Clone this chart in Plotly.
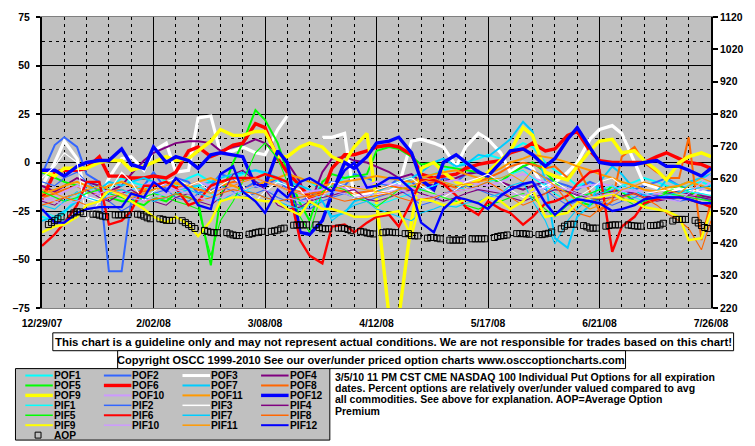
import plotly.graph_objects as go
import pandas as pd

# ---------------- data ----------------
dates = ["2007-12-29","2008-01-02","2008-01-05","2008-01-09","2008-01-12","2008-01-16","2008-01-19","2008-01-23","2008-01-26","2008-01-30",
         "2008-02-02","2008-02-06","2008-02-09","2008-02-13","2008-02-16","2008-02-20","2008-02-23","2008-02-27","2008-03-01","2008-03-05",
         "2008-03-08","2008-03-12","2008-03-15","2008-03-19","2008-03-22","2008-03-26","2008-03-29","2008-04-02","2008-04-05","2008-04-09",
         "2008-04-12","2008-04-16","2008-04-19","2008-04-23","2008-04-26","2008-04-30","2008-05-03","2008-05-07","2008-05-10","2008-05-14",
         "2008-05-17","2008-05-21","2008-05-24","2008-05-28","2008-05-31","2008-06-04","2008-06-07","2008-06-11","2008-06-14","2008-06-18",
         "2008-06-21","2008-06-25","2008-06-28","2008-07-02","2008-07-05","2008-07-09","2008-07-12","2008-07-16","2008-07-19","2008-07-23",
         "2008-07-26"]

POF1 = [-28,-30,-26,-18,-10,-12,-14,-8,-10,-12, -6,-10,-12,-8,-6,-10,-12,-8,-6,-4,
        -6,-10,-12,-8,-10,-14,-12,-8,-6,-8, -10,-12,-14,-10,-8,-6,-4,-2,0,2,
        4,2,6,10,8,0,-4,-8,-12,-10, -14,-16,-12,-10,-8,-10,-12,-14,-12,-10, -12]
POF2 = [-6,9,13,8,-6,-10,-56,-56,-20,-12, -5,-14,-8,-10,-16,-12,-6,-8,-14,-10,
        -12,-8,-14,-20,-18,-12,-10,-12,-6,-8, -10,-12,-8,-10,-14,-12,-8,-10,-6,-4,
        -8,-10,-6,-2,-4,-8,-10,-12,-14,-10, -12,-16,-18,-14,-12,-10,-8,-12,-14,-16, -14]
POF3 = [-12,0,11,2,-18,-20,-8,2,3,-4, 6,10,-5,-4,23,24,5,6,8,5,
        4,17,24,None,None,13,13,15,-18,-16, -16,-15,-12,11,12,10,8,-2,8,15,
        12,5,-5,0,-3,-14,-10,-5,0,12, 17,19,15,0,-11,-13,-14,-14,-14,-15, -16]
POF4 = [-12,-15,-12,-8,-10,-12,-15,-12,-6,1, 5,8,10,11,11,10,6,8,9,12,
        10,5,0,-10,-22,-5,2,3,1,0, -2,-5,-8,-6,-10,-12,-10,-8,-6,-5,
        -8,-10,-12,-14,-12,-10,-12,-14,-16,-18, -16,-15,-14,-16,-18,-17,-16,-15,-16,-17, -18]
POF5 = [-5,-8,-10,-12,-14,-16,-18,-20,-20,-22, -18,-20,-16,-18,-20,-53,-18,0,10,27,
        22,10,-5,-21,-30,-10,-6,-8,-7,-6, 6,8,7,3,-1,0,-2,-3,-4,-5,
        -8,-10,-6,-2,0,-5,-10,-15,-20,-22, -18,-12,-15,-20,-22,-18,-15,-12,-15,-18, -20]
POF6 = [-19,-5,-4,-4,-3,3,-7,-7,-8,-8, -7,-8,-5,6,8,3,5,9,10,20,
        18,2,-5,-12,-18,-16,-3,4,4,6, 8,9,8,4,-6,-8,-7,-6,-3,-1,
        0,1,5,7,10,6,7,14,16,6, 1,0,0,0,0,3,5,2,0,-1, -3]
POF7 = [-30,-28,-25,-20,-12,-14,-10,-12,-10,-8, -10,-12,-14,-13,-12,-10,-8,-6,-5,-4,
        -5,-8,-10,-12,-14,-20,-28,-26,-20,-18, -15,-12,-10,-8,-5,0,2,-2,-1,4,
        3,8,12,21,16,-10,-39,-44,-28,-22, -10,-2,-6,-14,-17,-15,-9,-12,-10,-8, -6]
POF8 = [-18,-16,-14,-12,-15,-16,-15,-14,-16,-15, -14,-12,-13,-12,-14,-15,-12,-10,-9,-8,
        -10,-12,-14,-15,-16,-15,-14,-15,-16,-15, -14,-12,-13,-14,-12,-10,-11,-13,-12,-10,
        -8,-5,-2,0,-1,-3,-2,-8,-2,-15, -25,-20,3,8,0,-5,-8,-8,13,-40, -20]
POF9 = [-4,-7,-3,-3,-3,0,1,1,-4,-2, 0,3,1,2,6,11,17,14,14,16,
        16,3,3,8,10,8,3,0,8,15, -20,-80,-80,-30,-3,0,-5,-10,-12,-9,
        -5,1,6,18,14,-5,-7,-9,-2,6, 11,12,5,6,1,-4,-9,0,3,5, 3]
POF10 = [-20,-18,-15,-12,-14,-16,-18,-15,-14,-12, -10,-12,-14,-12,-10,-12,-14,-12,-10,-8,
         -10,-12,-14,-16,-15,-14,-12,-13,-14,-12, -10,-11,-12,-13,-14,-12,-10,-9,-10,-11,
         -12,-10,-8,-6,-8,-10,-12,-14,-13,-12, -11,-12,-14,-15,-14,-16,-17,-18,-19,-14, -10]
POF11 = [-16,-14,-12,-10,-12,-14,-12,-10,-12,-14, -12,-10,-11,-12,-10,-8,-10,-12,-14,-12,
         -10,-8,-6,-8,-10,-12,-11,-10,-9,-8, -7,-8,-9,-10,-8,-6,-5,-4,-6,-8,
         -6,-3,0,2,4,3,2,0,-2,-4, -6,-8,-10,-12,-14,-15,-13,-12,-10,-12, -14]
POF12 = [-4,-4,-7,-2,0,1,1,7,-1,-3, 8,0,3,1,-3,4,5,4,3,-12,
         -12,6,0,-36,-37,-30,-16,0,-3,3, 10,11,13,5,-9,-14,0,4,0,-5,
         -7,0,6,7,4,-2,2,12,18,8, 0,-1,-1,-1,0,1,-2,-2,-4,-7, -3]

PIF1 = [-25,-28,-30,-22,-15,-12,-16,-18,-14,-12, -15,-18,-16,-14,-12,-16,-20,-18,-15,-12,
        -14,-16,-18,-20,-22,-18,-15,-16,-18,-20, -22,-20,-18,-16,-14,-12,-10,-12,-14,-12,
        -10,-8,-6,-4,-8,-12,-16,-20,-18,-16, -14,-12,-15,-18,-20,-19,-18,-16,-15,-16, -17]
PIF2 = [-10,-12,-8,-5,-10,-15,-20,-25,-22,-18, -16,-14,-18,-20,-16,-14,-12,-15,-18,-16,
        -14,-18,-20,-22,-24,-20,-18,-16,-18,-20, -18,-16,-14,-18,-22,-20,-16,-14,-12,-14,
        -16,-18,-14,-12,-10,-14,-18,-22,-20,-18, -20,-22,-20,-18,-16,-17,-18,-20,-19,-18, -20]
PIF3 = [-8,-2,5,0,-30,-20,-15,-5,-10,-20, -15,-10,-8,-12,-10,-15,-12,-8,-12,-20,
        -15,-10,-12,-14,-20,-18,-10,-12,-16,-18, -14,-12,-10,-8,-12,-16,-18,-14,-10,-8,
        -6,-10,-14,-18,-16,-12,-10,-14,-18,-14, -10,-8,-12,-14,-16,-15,-14,-13,-14,-15, -16]
PIF4 = [-20,-22,-18,-16,-14,-18,-20,-16,-14,-18, -20,-22,-18,-16,-20,-22,-18,-6,-4,-10,
        -14,-22,-24,-23,-20,-18,-17,-15,-14,-19, -20,-18,-16,-14,-16,-18,-20,-18,-16,-14,
        -15,-16,-18,-20,-18,-16,-14,-15,-17,-18, -19,-18,-17,-16,-18,-20,-19,-18,-17,-18, -19]
PIF5 = [-15,-18,-20,-18,-16,-14,-16,-18,-20,-18, -16,-18,-20,-22,-24,-48,-30,-20,-10,5,
        10,2,-10,-28,-36,-15,-12,-14,-18,-20, -23,-18,-14,-12,-14,-16,-18,-20,-22,-24,
        -22,-20,-18,-16,-18,-24,-28,-22,-18,-16, -14,-16,-18,-22,-20,-18,-16,-17,-18,-19, -20]
PIF6 = [-43,-37,-31,-22,-10,-10,-32,-30,-25,-12, -12,-10,-13,-22,-20,-12,-10,-8,-8,-8,
        -6,-8,-10,-40,-48,-52,-33,-32,-36,-31, -28,-27,-33,-20,-9,-9,-11,-17,-23,-27,
        -20,-24,-26,-32,-28,-21,-20,-17,-11,-5, -4,-46,-33,-28,-21,-19,-18,-18,-19,-21, -23]
PIF7 = [-22,-24,-20,-15,-18,-20,-16,-14,-16,-18, -20,-18,-16,-14,-16,-18,-20,-16,-14,-16,
        -18,-20,-22,-24,-22,-20,-30,-25,-22,-20, -24,-26,-28,-30,-26,-24,-22,-23,-21,-20,
        -18,-16,-12,-10,-20,-30,-42,-30,-24,-18, -16,-14,-12,-14,-16,-18,-17,-15,-14,-13, -12]
PIF8 = [-22,-20,-18,-20,-22,-20,-18,-16,-18,-20, -19,-18,-16,-18,-20,-18,-16,-14,-15,-16,
        -18,-20,-19,-18,-17,-16,-18,-20,-19,-18, -17,-16,-18,-20,-19,-18,-16,-15,-14,-12,
        -10,-14,-18,-22,-20,-16,-12,-20,-26,-28, -24,-20,-18,-16,-18,-22,-26,-30,-34,-45, -30]
PIF9 = [-36,-33,-32,-28,-22,-20,-14,-17,-20,-24, -28,-31,-28,-32,-38,-30,-20,-18,-18,-19,
        -20,-20,-24,-27,-20,-24,-24,-26,-28,-28, -27,-26,-25,-38,-19,-20,-22,-21,-19,-21,
        -18,-20,-24,-20,-14,-28,-27,-26,-21,-18, -18,-16,-19,-20,-23,-24,-25,-28,-40,-39, -25]
PIF10 = [-18,-20,-22,-20,-18,-16,-14,-16,-18,-20, -18,-16,-14,-16,-18,-20,-18,-16,-14,-12,
         -14,-16,-18,-20,-19,-17,-15,-16,-18,-17, -16,-15,-14,-16,-18,-17,-16,-15,-14,-13,
         -14,-15,-16,-17,-15,-13,-12,-14,-16,-18, -17,-16,-15,-14,-16,-18,-19,-20,-16,-10, -6]
PIF11 = [-14,-16,-18,-16,-14,-12,-14,-16,-18,-16, -14,-12,-10,-12,-14,-16,-14,-12,-10,-8,
         -10,-12,-14,-16,-18,-16,-14,-12,-13,-14, -15,-16,-14,-12,-10,-8,-10,-12,-11,-10,
         -9,-8,-6,-10,-4,-8,-12,-16,-20,-24, -22,-18,-14,-12,-10,-12,-14,-16,-12,-8, -10]
PIF12 = [-24,-31,-31,-26,-24,-23,-23,-23,-16,-18, -10,-15,-8,-14,-22,-24,-6,-2,-15,-20,
         -26,-14,-18,-10,-8,-12,-15,-4,0,-13, -12,-8,-8,-14,-31,-36,-24,-18,-19,-21,
         -24,-17,-14,-11,-10,-21,-27,-21,-19,-20, -21,-25,-24,-22,-19,-18,-18,-18,-19,-21, -21]

# Average option premium (right axis), one value per trading day
AOP = [478,484,490,496,502, 508,514,518,517,512, 510,510,507,504,502, 508,508,508,508,509,
       510,508,504,499,496, 496,494,491,491,491, 490,484,478,472,466, 460,457,454,453,453,
       453,449,446,444,444, 448,450,453,455,457, 457,459,461,465,467, 476,477,477,477,477,
       477,469,465,465,465, 467,467,466,463,459, 457,455,452,450,449, 453,455,455,454,453,
       450,450,444,443,443, 436,438,438,436,434, 430,430,430,430,430, 434,434,434,434,434,
       438,441,443,444,446, 450,450,450,449,448, 447,447,449,451,455, 465,473,478,479,479,
       475,471,467,467,467, 473,475,477,477,477, 477,475,474,473,473, 475,475,476,477,482,
       489,494,494,494,494, 491,483,475,469,466]
aop_dates = pd.bdate_range("2007-12-31", "2008-07-25")

xtick_dates = ["2007-12-29","2008-02-02","2008-03-08","2008-04-12","2008-05-17","2008-06-21","2008-07-26"]
xtick_labels = ["12/29/07","2/02/08","3/08/08","4/12/08","5/17/08","6/21/08","7/26/08"]
ytick_left = [-75,-50,-25,0,25,50,75]
ytick_right = [220,320,420,520,620,720,820,920,1020,1120]

series_names = ["POF1","POF2","POF3","POF4","POF5","POF6","POF7","POF8","POF9","POF10","POF11","POF12",
                "PIF1","PIF2","PIF3","PIF4","PIF5","PIF6","PIF7","PIF8","PIF9","PIF10","PIF11","PIF12"]
series_values = [POF1,POF2,POF3,POF4,POF5,POF6,POF7,POF8,POF9,POF10,POF11,POF12,
                 PIF1,PIF2,PIF3,PIF4,PIF5,PIF6,PIF7,PIF8,PIF9,PIF10,PIF11,PIF12]

# ---------------- styles ----------------
base_colors = ["#00FFFF","#3366FF","#FFFFFF","#800080","#00FF00","#FF0000",
               "#00CCFF","#FF6600","#FFFF00","#CC99FF","#FF9900","#0000FF"]
pof_widths = [2,2,3.2,2,2,3.4,2,2,3.4,2,2,3.4]
pif_widths = [1.1,1.1,1.1,1.1,1.1,2.4,1.1,1.1,2.4,1.1,1.1,2.4]
legend_widths = [2,2,3,2,2,3.4,2,2,3.4,2,2,3.4, 1.5,1.5,1.5,1.5,1.5,2,1.5,1.5,2,1.5,1.5,2]
colors = base_colors + base_colors
widths = pof_widths + pif_widths

fig = go.Figure()
for name, vals, c, w in zip(series_names, series_values, colors, widths):
    fig.add_trace(go.Scatter(x=dates, y=vals, mode="lines", name=name,
                             line=dict(color=c, width=w), connectgaps=False,
                             hoverinfo="skip", showlegend=False))
fig.add_trace(go.Scatter(x=aop_dates, y=AOP, yaxis="y2", mode="markers", name="AOP",
                         marker=dict(symbol="square-open", size=6, color="black",
                                     line=dict(width=1, color="black")),
                         hoverinfo="skip", showlegend=False))

# pixel -> paper helpers (plot area: x 34..715, y 15..308)
L, R, T, B = 34, 715, 15, 308
def PX(px):
    return (px - L) / (R - L)
def PY(py):
    return (B - py) / (B - T)

FONT = "Liberation Sans, Arial, sans-serif"
shapes = []
annotations = []
TXT_PAD = 3  # annotation inner padding

# disclaimer boxes
shapes.append(dict(type="rect", xref="paper", yref="paper", x0=PX(45), x1=PX(738), y0=PY(351), y1=PY(333),
                   line=dict(color="black", width=1), fillcolor="white", layer="above"))
annotations.append(dict(xref="paper", yref="paper", x=PX(392), y=PY(342), xanchor="center", yanchor="middle",
                        showarrow=False, font=dict(size=11.4),
                        text="This chart is a guideline only and may not represent actual conditions. We are not responsible for trades based on this chart!"))
shapes.append(dict(type="rect", xref="paper", yref="paper", x0=PX(111), x1=PX(628), y0=PY(369), y1=PY(351),
                   line=dict(color="black", width=1), fillcolor="white", layer="above"))
annotations.append(dict(xref="paper", yref="paper", x=PX(369), y=PY(360), xanchor="center", yanchor="middle",
                        showarrow=False, font=dict(size=11.1),
                        text="Copyright OSCC 1999-2010 See our over/under priced option charts www.osccoptioncharts.com"))

# legend box
shapes.append(dict(type="rect", xref="paper", yref="paper", x0=PX(7), x1=PX(327), y0=PY(441), y1=PY(369),
                   line=dict(color="black", width=1), fillcolor="#C0C0C0", layer="above"))
col_x = [17, 97, 177, 257]
row_y = [376, 386, 396, 406, 416, 426, 436]
for k, (name, c, w) in enumerate(zip(series_names, colors, legend_widths)):
    r, cidx = divmod(k, 4)
    x0 = col_x[cidx]
    shapes.append(dict(type="line", xref="paper", yref="paper", x0=PX(x0), x1=PX(x0 + 28),
                       y0=PY(row_y[r]), y1=PY(row_y[r]), line=dict(color=c, width=w), layer="above"))
    annotations.append(dict(xref="paper", yref="paper", x=PX(x0 + 30 - TXT_PAD), y=PY(row_y[r]), xanchor="left",
                            yanchor="middle", showarrow=False, text=name, font=dict(size=10.2)))
shapes.append(dict(type="rect", xref="paper", yref="paper", x0=PX(27), x1=PX(33), y0=PY(439), y1=PY(433),
                   line=dict(color="black", width=1), fillcolor="rgba(0,0,0,0)", layer="above"))
annotations.append(dict(xref="paper", yref="paper", x=PX(47 - TXT_PAD), y=PY(436), xanchor="left", yanchor="middle",
                        showarrow=False, text="AOP", font=dict(size=10.2)))

# description text
desc = ["3/5/10 11 PM CST CME NASDAQ 100 Individual Put Options for all expiration",
        "dates. Percent options are relatively over/under valued compared to avg",
        "all commodities. See above for explanation. AOP=Average Option",
        "Premium"]
for i, line in enumerate(desc):
    annotations.append(dict(xref="paper", yref="paper", x=PX(333 - TXT_PAD), y=PY(377.5 + 11.3 * i), xanchor="left",
                            yanchor="middle", showarrow=False, text=line, font=dict(size=10.5)))

dash = "3px,4px"
fig.update_layout(
    width=755, height=446,
    margin=dict(l=L, r=755 - R, t=T, b=446 - B, pad=0),
    paper_bgcolor="white", plot_bgcolor="#C0C0C0",
    font=dict(family=FONT, size=10.4, color="black", weight="bold"),
    showlegend=False, hovermode=False,
    xaxis=dict(type="date", range=["2007-12-29", "2008-07-26"], tickmode="array",
               tickvals=xtick_dates, ticktext=xtick_labels,
               showgrid=True, gridcolor="black", gridwidth=1, zeroline=False,
               showline=True, linecolor="#808080", linewidth=1, mirror=True,
               ticks="outside", ticklen=6, tickcolor="rgba(0,0,0,0)",
               minor=dict(tick0="2007-12-29", dtick=7 * 86400000, showgrid=True,
                          gridcolor="black", gridwidth=1, griddash=dash, ticks="")),
    yaxis=dict(range=[-75, 75], tickmode="array", tickvals=ytick_left,
               showgrid=True, gridcolor="black", gridwidth=1, zeroline=False,
               showline=True, linecolor="black", linewidth=2,
               ticks="outside", ticklen=4, tickwidth=2, tickcolor="black", ticklabelstandoff=4,
               minor=dict(tickmode="array", tickvals=[-62.5, -37.5, -12.5, 12.5, 37.5, 62.5],
                          showgrid=True, gridcolor="black", gridwidth=1, griddash=dash, ticks="")),
    yaxis2=dict(overlaying="y", side="right", range=[220, 1120], tickmode="array", tickvals=ytick_right,
                showgrid=False, zeroline=False, showline=True, linecolor="black", linewidth=2,
                ticks="outside", ticklen=5, tickwidth=2, tickcolor="black"),
    shapes=shapes, annotations=annotations,
)

fig.write_html("out.html", config={"displayModeBar": False},
               post_script="document.body.style.margin='0px';document.body.style.padding='0px';")
